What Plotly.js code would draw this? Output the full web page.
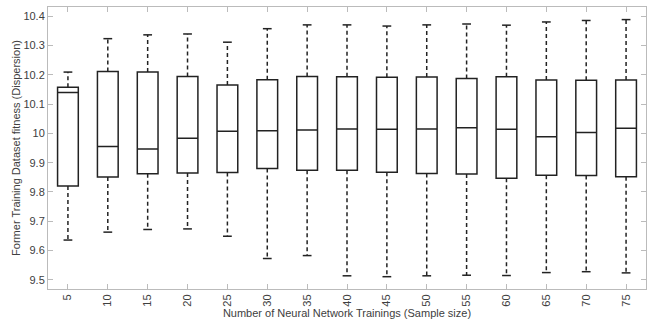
<!DOCTYPE html>
<html>
<head>
<meta charset="utf-8">
<script src="https://cdn.plot.ly/plotly-3.0.1.min.js"></script>
<style>html,body{margin:0;padding:0;background:#fff;}#chart{width:654px;height:320px;}</style>
</head>
<body>
<div id="chart"></div>
<script>
const sampleSizes = [5, 10, 15, 20, 25, 30, 35, 40, 45, 50, 55, 60, 65, 70, 75];
const upperWhisker = [10.209, 10.323, 10.336, 10.339, 10.311, 10.357, 10.370, 10.370, 10.366, 10.370, 10.373, 10.369, 10.380, 10.385, 10.388];
const q3Values     = [10.157, 10.211, 10.209, 10.194, 10.165, 10.183, 10.194, 10.193, 10.191, 10.192, 10.187, 10.193, 10.182, 10.181, 10.182];
const medianValues = [10.139, 9.955, 9.947, 9.983, 10.007, 10.009, 10.011, 10.015, 10.014, 10.015, 10.019, 10.014, 9.988, 10.003, 10.017];
const q1Values     = [9.820, 9.851, 9.862, 9.865, 9.866, 9.880, 9.874, 9.874, 9.867, 9.863, 9.861, 9.847, 9.857, 9.856, 9.852];
const lowerWhisker = [9.636, 9.663, 9.672, 9.674, 9.649, 9.573, 9.583, 9.514, 9.511, 9.514, 9.516, 9.515, 9.525, 9.528, 9.524];
const yTickVals = [9.5, 9.6, 9.7, 9.8, 9.9, 10, 10.1, 10.2, 10.3, 10.4];
const yTickText = ['9.5', '9.6', '9.7', '9.8', '9.9', '10', '10.1', '10.2', '10.3', '10.4'];

const boxWidth = 2.6;
const capHalf = 0.55;

// dashed whiskers
const wx = [], wy = [];
sampleSizes.forEach((s, i) => {
  wx.push(s, s, null, s, s, null);
  wy.push(q3Values[i], upperWhisker[i], null, q1Values[i], lowerWhisker[i], null);
});
// caps
const cx = [], cy = [];
sampleSizes.forEach((s, i) => {
  cx.push(s - capHalf, s + capHalf, null, s - capHalf, s + capHalf, null);
  cy.push(upperWhisker[i], upperWhisker[i], null, lowerWhisker[i], lowerWhisker[i], null);
});

const traces = [
  {
    type: 'scatter', mode: 'lines', x: wx, y: wy, hoverinfo: 'skip',
    line: {color: '#222', width: 1.5, dash: '4px,3px'}, showlegend: false
  },
  {
    type: 'scatter', mode: 'lines', x: cx, y: cy, hoverinfo: 'skip',
    line: {color: '#222', width: 1.5}, showlegend: false
  },
  {
    type: 'box', x: sampleSizes, q1: q1Values, median: medianValues, q3: q3Values,
    lowerfence: q1Values, upperfence: q3Values,
    width: boxWidth, whiskerwidth: 0,
    fillcolor: 'rgba(255,255,255,0)',
    line: {color: '#222', width: 1.5},
    boxpoints: false, showlegend: false
  }
];

const fam = 'Liberation Sans, Arial, sans-serif';
const axisFont = {family: fam, size: 11, color: '#404040'};
const layout = {
  width: 654, height: 320,
  margin: {l: 48, r: 8, t: 7, b: 31},
  paper_bgcolor: '#fff', plot_bgcolor: '#fff',
  font: axisFont,
  xaxis: {
    range: [2.5, 77.5],
    tickvals: sampleSizes, ticktext: sampleSizes.map(String),
    tickangle: -90,
    ticks: 'inside', ticklen: 5, tickcolor: '#bbb', tickwidth: 1,
    showline: true, linecolor: '#bbb', linewidth: 1, mirror: 'ticks',
    showgrid: false, zeroline: false,
    tickfont: axisFont,
    title: {text: 'Number of Neural Network Trainings (Sample size)', font: {family: fam, size: 11, color: '#404040'}, standoff: 3}
  },
  yaxis: {
    range: [9.469, 10.431],
    tickvals: yTickVals, ticktext: yTickText,
    ticks: 'inside', ticklen: 5, tickcolor: '#bbb', tickwidth: 1,
    showline: true, linecolor: '#bbb', linewidth: 1, mirror: 'ticks',
    showgrid: false, zeroline: false,
    tickfont: axisFont,
    title: {text: 'Former Training Dataset fitness (Dispersion)', font: {family: fam, size: 11, color: '#404040'}, standoff: 0}
  }
};

Plotly.newPlot('chart', traces, layout, {displayModeBar: false, staticPlot: true});
</script>
</body>
</html>
